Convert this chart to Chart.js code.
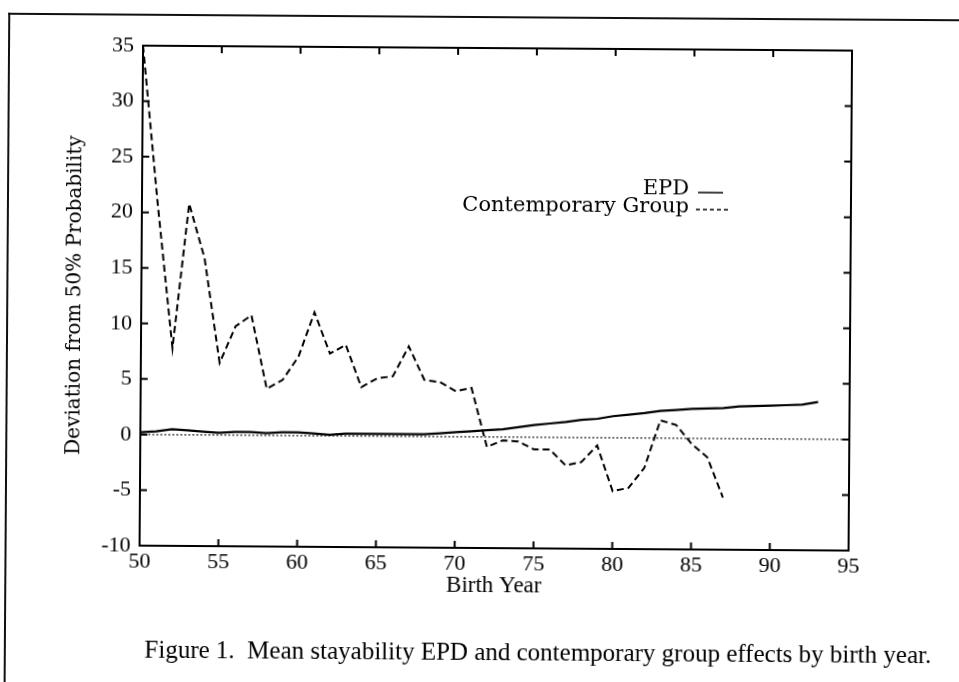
<!DOCTYPE html>
<html>
<head>
<meta charset="utf-8">
<script src="https://cdn.jsdelivr.net/npm/chart.js@4.4.1/dist/chart.umd.min.js"></script>
<style>
  html, body { margin: 0; padding: 0; background: #fff; overflow: hidden; }
  #page { position: relative; width: 959px; height: 682px; transform: rotate(0.4deg); transform-origin: 50% 50%; }
  #chart { position: absolute; left: 0; top: 0; }
  .frame-top { position: absolute; left: 6px; top: 16px; width: 980px; height: 0; border-top: 2px solid #111; }
  .frame-left { position: absolute; left: 6px; top: 16px; width: 0; height: 700px; border-left: 2px solid #111; }
  #caption { position: absolute; left: 0; width: 1080px; top: 638px; text-align: center; font-family: "Liberation Serif", serif; font-size: 25px; color: #000; white-space: pre; }
</style>
</head>
<body>
<div id="page">
  <div class="frame-top"></div>
  <div class="frame-left"></div>
  <canvas id="chart" width="959" height="682"></canvas>
  <div id="caption">Figure 1.  Mean stayability EPD and contemporary group effects by birth year.</div>
</div>
<script>
// birth years
const epdYears = [50, 51, 52, 53, 54, 55, 56, 57, 58, 59, 60, 61, 62, 63, 64, 65, 66, 67, 68, 69, 70, 71,
    72, 73, 74, 75, 76, 77, 78, 79, 80, 81, 82, 83, 84, 85, 86, 87, 88, 89, 90, 91, 92, 93];
const epdValues = [0.2, 0.3, 0.5, 0.4, 0.3, 0.2, 0.3, 0.3, 0.2, 0.3, 0.3, 0.2, 0.1, 0.2, 0.2, 0.2, 0.2, 0.2, 0.2, 0.3, 0.4, 0.5,
    0.6, 0.7, 0.9, 1.1, 1.25, 1.4, 1.6, 1.7, 1.95, 2.1, 2.25, 2.45, 2.55, 2.65, 2.7, 2.75, 2.9, 2.95, 3.0, 3.05, 3.1, 3.35];

const cgYears = [50, 51, 52, 53, 54, 55, 56, 57, 58, 59, 60, 61, 62, 63, 64, 65, 66, 67, 68,
    69, 70, 71, 72, 73, 74, 75, 76, 77, 78, 79, 80, 81, 82, 83, 84, 85, 86, 87];
const cgValues = [35, 20.8, 7.8, 20.8, 15.9, 6.5, 9.8, 10.8, 4.2, 5.0, 7.1, 11.1, 7.4, 8.2, 4.4, 5.2, 5.4, 8.1, 5.1,
    4.9, 4.1, 4.4, -0.9, -0.3, -0.4, -1.1, -1.1, -2.5, -2.2, -0.7, -4.8, -4.5, -2.7, 1.6, 1.2, -0.5, -1.7, -5.3];

// reference line at zero
const zeroYears = [50, 95];
const zeroValues = [0, 0];

const xTicks = [50, 55, 60, 65, 70, 75, 80, 85, 90, 95];
const yTicks = [-10, -5, 0, 5, 10, 15, 20, 25, 30, 35];

const legendItems = ["EPD", "Contemporary Group"];

function toPoints(xs, ys) {
    return xs.map((x, i) => ({ x: x, y: ys[i] }));
}

// frame with inward ticks on all four sides, plus the inset legend
const framePlugin = {
    id: "frame",
    afterDatasetsDraw(chart) {
        const { ctx, chartArea: a, scales } = chart;
        ctx.save();
        ctx.strokeStyle = "#000";
        ctx.lineWidth = 2;
        ctx.strokeRect(a.left, a.top, a.right - a.left, a.bottom - a.top);
        ctx.beginPath();
        xTicks.forEach((v) => {
            const px = scales.x.getPixelForValue(v);
            ctx.moveTo(px, a.bottom);
            ctx.lineTo(px, a.bottom - 7);
            ctx.moveTo(px, a.top);
            ctx.lineTo(px, a.top + 7);
        });
        yTicks.forEach((v) => {
            const py = scales.y.getPixelForValue(v);
            ctx.moveTo(a.left, py);
            ctx.lineTo(a.left + 7, py);
            ctx.moveTo(a.right, py);
            ctx.lineTo(a.right - 7, py);
        });
        ctx.stroke();

        // legend: text right-aligned, line sample after it
        ctx.fillStyle = "#000";
        ctx.font = "21px 'DejaVu Serif', serif";
        ctx.textAlign = "right";
        ctx.textBaseline = "middle";
        ctx.fillText(legendItems[0], 688, 188);
        ctx.fillText(legendItems[1], 688, 206);
        ctx.lineWidth = 1.5;
        ctx.beginPath();
        ctx.moveTo(697, 191);
        ctx.lineTo(722, 191);
        ctx.stroke();
        ctx.setLineDash([4, 3]);
        ctx.beginPath();
        ctx.moveTo(695, 208);
        ctx.lineTo(727, 208);
        ctx.stroke();
        ctx.restore();
    }
};

const tickFont = { family: "'Liberation Serif', serif", size: 22 };

new Chart(document.getElementById("chart"), {
    type: "line",
    data: {
        datasets: [
            {
                label: "zero",
                data: toPoints(zeroYears, zeroValues),
                borderColor: "#222",
                borderWidth: 1.2,
                borderDash: [2, 2],
                pointRadius: 0,
            },
            {
                label: legendItems[0],
                data: toPoints(epdYears, epdValues),
                borderColor: "#000",
                borderWidth: 2.2,
                pointRadius: 0,
                tension: 0,
            },
            {
                label: legendItems[1],
                data: toPoints(cgYears, cgValues),
                borderColor: "#000",
                borderWidth: 2,
                borderDash: [7, 4],
                pointRadius: 0,
                tension: 0,
            },
        ],
    },
    options: {
        responsive: false,
        animation: false,
        layout: { padding: { left: 60, top: 48, right: 109, bottom: 82 } },
        plugins: { legend: { display: false }, tooltip: { enabled: false } },
        scales: {
            x: {
                type: "linear",
                min: 50,
                max: 95,
                afterBuildTicks: (scale) => { scale.ticks = xTicks.map((v) => ({ value: v })); },
                ticks: { font: tickFont, color: "#000", padding: 3 },
                grid: { display: false, drawTicks: false },
                border: { display: false },
                title: {
                    display: true,
                    text: "Birth Year",
                    font: { family: "'Liberation Serif', serif", size: 23 },
                    color: "#000",
                    padding: { top: 0, bottom: 0 },
                },
                afterFit: (scale) => { scale.height = 52; },
            },
            y: {
                type: "linear",
                min: -10,
                max: 35,
                afterBuildTicks: (scale) => { scale.ticks = yTicks.map((v) => ({ value: v })); },
                ticks: { font: tickFont, color: "#000", padding: 9 },
                grid: { display: false, drawTicks: false },
                border: { display: false },
                title: {
                    display: true,
                    text: "Deviation from 50% Probability",
                    font: { family: "'DejaVu Serif', serif", size: 20 },
                    color: "#000",
                    padding: { top: 3, bottom: 0 },
                },
                afterFit: (scale) => { scale.width = 81; },
            },
        },
    },
    plugins: [framePlugin],
});
</script>
</body>
</html>
